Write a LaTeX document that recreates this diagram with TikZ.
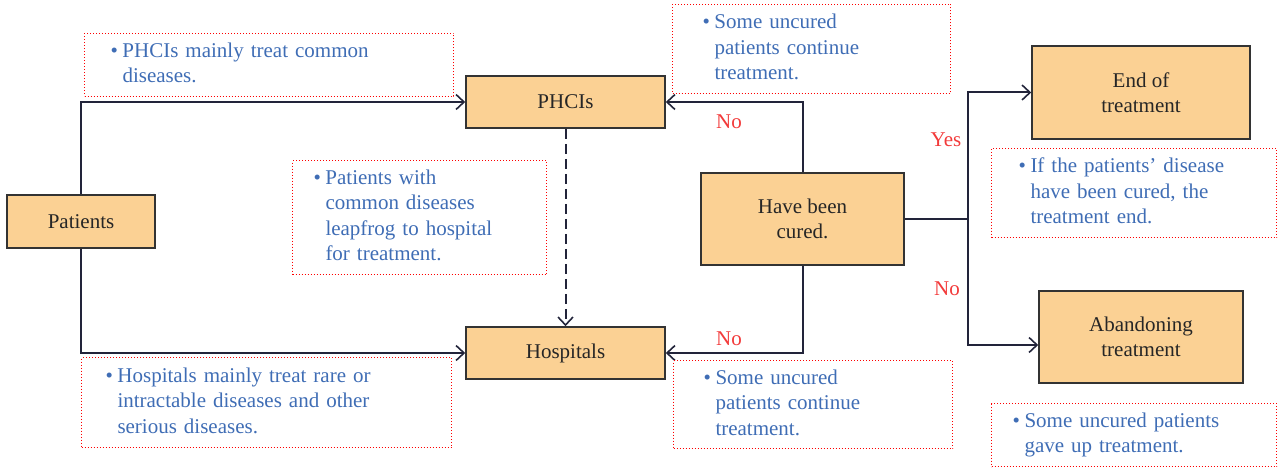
\documentclass[tikz,border=0pt]{standalone}
\usepackage{fontspec}
\setmainfont{Liberation Serif}
\usetikzlibrary{arrows.meta}
\definecolor{boxfill}{HTML}{FBD194}
\definecolor{noteblue}{HTML}{3F6DB5}
\definecolor{labred}{HTML}{F23A3A}
\definecolor{linecol}{HTML}{22243A}
\newcommand\bitem[1]{\makebox[12pt][l]{\textbullet}\begin{tabular}[t]{@{}l@{}}#1\end{tabular}}
\begin{document}
\begin{tikzpicture}[x=1pt,y=-1pt,
  font=\fontsize{21}{25.5}\selectfont,
  box/.style={draw=black!80,line width=1.6pt,fill=boxfill,text=black!85,align=center,inner sep=0pt},
  note/.style={draw=red,dotted,line width=1pt,text=noteblue,align=left,inner ysep=0pt,anchor=north west},
  conn/.style={draw=linecol,line width=2pt,-{Straight Barb[length=8pt,width=15pt,line width=1.6pt]}},
  plain/.style={draw=linecol,line width=2pt},
  lab/.style={text=labred,inner sep=0pt}]
\useasboundingbox (0,0) rectangle (1282,468);
% boxes
\node[box,minimum width=148pt,minimum height=53pt] (pat) at (81,221.5) {Patients};
\node[box,minimum width=199pt,minimum height=52pt] (phc) at (565.5,102) {PHCIs};
\node[box,minimum width=199pt,minimum height=52pt] (hos) at (565.5,353) {Hospitals};
\node[box,minimum width=203pt,minimum height=92pt] (cur) at (802.5,219) {Have been\\cured.};
\node[box,minimum width=218pt,minimum height=93pt] (end) at (1141,92.5) {End of\\treatment};
\node[box,minimum width=204pt,minimum height=92pt] (ab) at (1141,337) {Abandoning\\treatment};
% connectors
\draw[conn] (pat.north) |- (phc.west);
\draw[conn] (pat.south) |- (hos.west);
\draw[conn,dash pattern=on 10pt off 5pt] (phc.south) -- (hos.north);
\draw[conn] (cur.north) |- (phc.east);
\draw[conn] (cur.south) |- (hos.east);
\coordinate (j) at (968,219);
\draw[plain] (cur.east) -- (j);
\draw[conn] (j) |- (end.west);
\draw[conn] (j) |- ([yshift=-8pt]ab.west);
% labels
\node[lab] (l1) at (729,122) {No};
\node[lab] (l2) at (729,339) {No};
\node[lab] (l3) at (946,140) {Yes};
\node[lab] (l4) at (947,289) {No};
% notes
\node[note,minimum height=63pt,text width=317pt,inner xsep=26pt] (n1) at (84,33)
  {\bitem{PHCIs mainly treat common\\diseases.}};
\node[note,minimum height=89pt,text width=218pt,inner xsep=30pt] (n2) at (672,4)
  {\bitem{Some uncured\\patients continue\\treatment.}};
\node[note,minimum height=114pt,text width=212pt,inner xsep=21pt] (n3) at (292,160)
  {\bitem{Patients with\\common diseases\\leapfrog to hospital\\for treatment.}};
\node[note,minimum height=90pt,text width=322pt,inner xsep=24pt] (n4) at (81,357)
  {\bitem{Hospitals mainly treat rare or\\intractable diseases and other\\serious diseases.}};
\node[note,minimum height=88pt,text width=219pt,inner xsep=30pt] (n5) at (673,360)
  {\bitem{Some uncured\\patients continue\\treatment.}};
\node[note,minimum height=89pt,text width=231pt,inner xsep=27pt] (n6) at (991,148)
  {\bitem{If the patients’ disease\\have been cured, the\\treatment end.}};
\node[note,minimum height=63pt,text width=243pt,inner xsep=21pt] (n7) at (991,403)
  {\bitem{Some uncured patients\\gave up treatment.}};
\end{tikzpicture}
\end{document}
